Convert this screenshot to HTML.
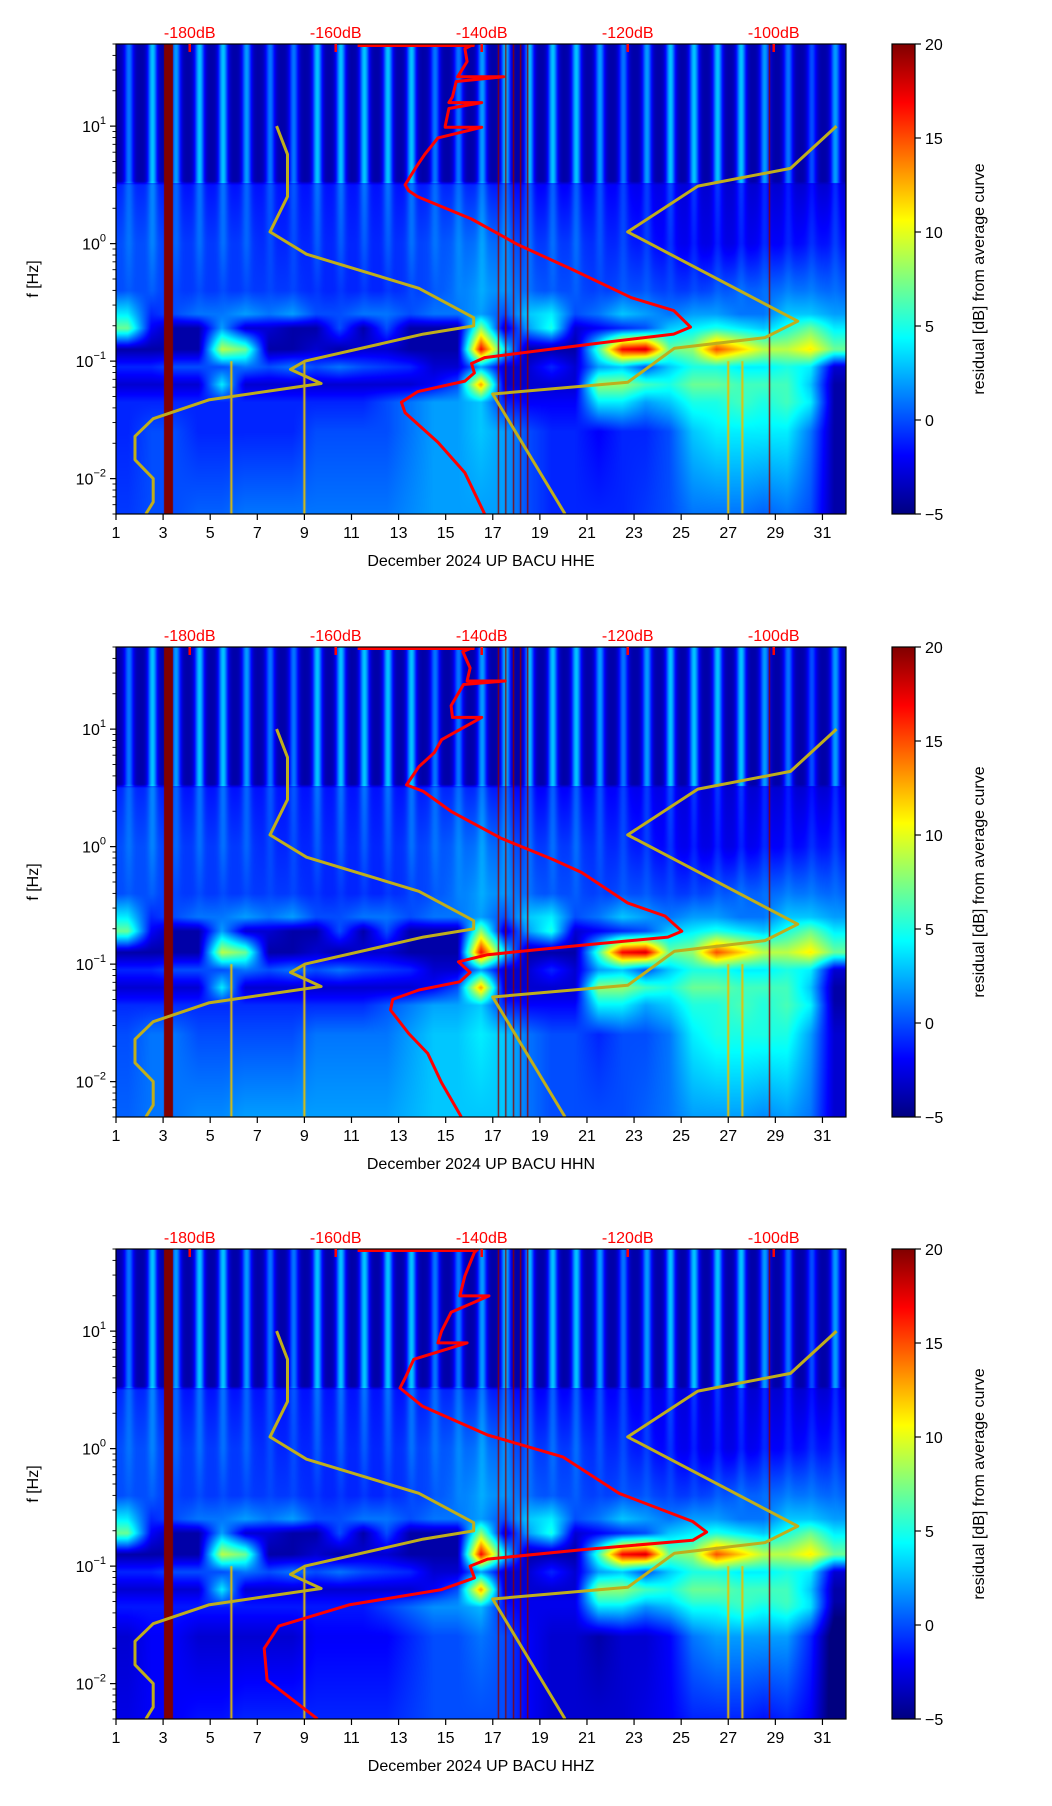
<!DOCTYPE html>
<html><head><meta charset="utf-8"><title>Spectrogram residuals BACU December 2024</title>
<style>
html,body{margin:0;padding:0;background:#fff;}
#wrap{position:relative;width:1052px;height:1806px;overflow:hidden;font-family:"Liberation Sans","DejaVu Sans",sans-serif;}
canvas{position:absolute;}
svg{position:absolute;left:0;top:0;}
</style></head>
<body>
<div id="wrap">
<canvas id="c0" width="730" height="470" style="left:116px;top:44px"></canvas>
<canvas id="c1" width="730" height="470" style="left:116px;top:647px"></canvas>
<canvas id="c2" width="730" height="470" style="left:116px;top:1249px"></canvas>
<svg id="ov" width="1052" height="1806"></svg>
</div>
<script>
// ---------- data ----------
const channels = ["HHE","HHN","HHZ"];
const xTickDays = [1,3,5,7,9,11,13,15,17,19,21,23,25,27,29,31];
const dbTicks = [-180,-160,-140,-120,-100];
const yTickExp = [1,0,-1,-2];
const cbTicks = [-5,0,5,10,15,20];
const rowLogF = [1.70, 0.53, 0.50, 0.0, -0.40, -0.60, -0.72, -0.90, -1.05, -1.20, -1.35, -1.60, -2.30];
const rowHigh   = [-4,-4,-4,-4,-4,-4,-4,-4,-4,-4,-4,-4,-4,-4,-4,-4,-4,-4,-4,-4,-4,-4,-4,-4,-4,-4,-4,-4,-4,-4,-4];
const rowHighLo = [-4,-4,-4,-4,-4,-4,-4,-4,-4,-4,-4,-4,-4,-4,-4,-4,-4,-4,-4,-4,-4,-4,-4,-4,-4,-4,-4,-4,-4,-4,-4];
const rowMid1 = [-1,-1,-1.5,-1.5,-1.5,-1.5,-1.5,-1.5,-1.5,-1.5,-1.5,-1.5,-1.5,-1,-1,-1,-1.5,-2,-2,-2,-2,-2,-2.5,-2.5,-3,-3,-3,-3,-3,-3,-3];
const rowMid2 = [0,0,-0.5,-0.5,-0.5,-0.5,-1,-1,-1,-1,-1,-1,-0.5,0,0.5,1,0.5,-0.5,-0.5,-0.5,-1,-1,-1.5,-2,-2.5,-2.5,-2.5,-2,-2,-1.5,-1.5];
const rowMid3 = [0,0,-0.5,-0.5,-0.5,-0.5,-0.5,-0.5,-1,-1,-1,-1,-0.5,0,1,2,1.5,0.5,0,0,-0.5,0,0,-0.5,-0.5,0,0.5,0.5,1,1,0.5];
const row025 = [4,-1,0,1,1,2,1,2,0,0,1,1,0,1,1,2,0,3,4,0,1,3,2,1,2,2,1,1,3,3,2];
const row019 = [7,-2,-4,-4,2,-3,-3,-4,-4,0,-4,0,-4,-4,-4,8,-3,2,5,-3,-2,-1,0,3,4,5,4,3,5,7,4];
const row0125 = [-4,-4,-4,-4,9,7,-4,-4,-3,-4,-3,-3,-4,-4,-4,17,4,-4,-4,-4,6,17,18,7,8,15,12,9,9,11,7];
const row009 = [-1,-1,0,0,0,1,0,1,0,1,0,-0.5,-1,-3,-3,2,-3,-3,-1,-3,2,3,0,3,5,5,4,4,5,4,-3];
const row0063 = [-3,-3,-3,-3,4,-3,-3,-3,-3,-3,-3,-3,-3,-2,0,13,-3,-3,-3,-3,8,8,6,5,7,7,6,6,6,3,-4];
const row0045 = [-1,-1,-1,-1,-1,-1,-1,-1,-1,-1,-1,0,1,2,2,3,-1,-2,-2,-2,4,4,2,3,5,5,6,5,6,4,-4];
const row0025 = [-1,0,0,-1,-1,-1,-1,-1,0,0,0,0,1,2,2,3,2,0,-1,-1,-2,-1,-1,0,3,4,4,4,4,1,-4];
const row0005 = [-0.5,0,0,0.5,0.5,1,1,1,1,1,1,1,1.5,2,2,2,2,0,-1,-1,-1,-1,-0.5,0,1,1,1,0.5,1,0,-4];
const rowValues = [rowHigh,rowHighLo,rowMid1,rowMid2,rowMid3,row025,row019,row0125,row009,row0063,row0045,row0025,row0005];
const dayBoost = [5,7,6,7,7,6,5,5,7,7,7,7,7,5,5,6,7,7,7,7,6,5,6,7,7,7,7,6,5,4,6];
const lowShift = [0, 1, -2];
const darkBarDays = [3.04, 3.42];
const thinLineDays = [17.24,17.55,17.88,18.18,18.48,28.75];
const lowLineDays = [5.9, 9.0, 27.0, 27.6];
const redLogF0 = [1.70,1.66,1.55,1.45,1.42,1.42,1.38,1.25,1.2,1.2,1.15,1.0,0.99,0.99,0.9,0.76,0.65,0.55,0.5,0.45,0.40,0.21,-0.01,-0.22,-0.46,-0.57,-0.71,-0.77,-0.84,-0.97,-1.02,-1.1,-1.17,-1.26,-1.35,-1.44,-1.69,-1.95,-2.3];
const redDb0   = [-141,-142.3,-142,-143,-143.3,-137,-143.5,-144,-144.5,-140,-144.5,-145,-145,-140,-146,-147.8,-149,-150,-150.5,-150,-148.8,-141.4,-135,-127.6,-119.5,-113.7,-111.4,-113.7,-123,-139.6,-141.4,-141,-142.3,-148.8,-151,-150.5,-146,-142.3,-139.6];
const redLogF1 = [1.7,1.66,1.52,1.41,1.41,1.38,1.2,1.1,1.1,0.91,0.8,0.68,0.525,0.47,0.3,0.07,-0.11,-0.22,-0.48,-0.59,-0.72,-0.77,-0.84,-0.92,-0.98,-1.07,-1.15,-1.22,-1.30,-1.39,-1.59,-1.76,-2.01,-2.3];
const redDb1   = [-141,-142.6,-141.6,-142,-136.8,-142.5,-144.2,-144,-140,-145.5,-146.5,-148.6,-150.3,-148,-144.2,-137.3,-130.2,-126.3,-120,-114.9,-112.6,-114.5,-126.3,-139.2,-143.2,-141.6,-143,-148.6,-152.2,-152.5,-150,-147.4,-145.5,-142.8];
const redLogF2 = [1.7,1.67,1.47,1.3,1.3,1.16,1.0,0.9,0.9,0.76,0.6,0.516,0.36,0.116,-0.07,-0.38,-0.62,-0.71,-0.78,-0.86,-0.94,-1.0,-1.1,-1.2,-1.33,-1.51,-1.70,-1.97,-2.3];
const redDb2   = [-140.5,-141,-142.3,-143,-139,-144.2,-145.5,-146,-142,-149.3,-150.5,-151.2,-148.1,-139.2,-128.9,-121.2,-111.1,-109.2,-111.1,-126.3,-139.2,-141.6,-141,-145.5,-158.2,-167.8,-169.8,-169.4,-162.5];
const redTopDb = [-157, -141];
const nlnmLogF = [1.0,0.76,0.40,0.10,-0.09,-0.38,-0.63,-0.70,-0.77,-1.0,-1.07,-1.19,-1.33,-1.49,-1.64,-1.84,-2.0,-2.2,-2.3];
const nlnmDb   = [-168.1,-166.6,-166.6,-169,-164,-148.6,-141.1,-141.1,-148,-164.2,-166.2,-162,-177.4,-185,-187.5,-187.5,-185,-185,-186];
const nhnmLogF = [1.0,0.64,0.49,0.10,-0.66,-0.8,-0.89,-1.18,-1.28,-2.3];
const nhnmDb   = [-91.4,-97.7,-110.4,-120,-96.7,-101.2,-113.6,-120,-138.5,-128.6];

// ---------- axes ----------
const X0=116, W=730, H=470, tops=[44,647,1249];
const DAY_MIN=1, DAY_MAX=32, LF_MAX=Math.log10(50), LF_MIN=Math.log10(0.005), DB_MIN=-190.1, DB_MAX=-90.1;
const CB_X=892, CB_W=23;
function dayX(d){return X0+(d-DAY_MIN)/(DAY_MAX-DAY_MIN)*W;}
function dbX(db){return X0+(db-DB_MIN)/(DB_MAX-DB_MIN)*W;}
function fY(lf,top){return top+(LF_MAX-lf)/(LF_MAX-LF_MIN)*H;}
function cbY(v,top){return top+(20-v)/25*H;}
function jet(t){t=Math.max(0,Math.min(1,t));const c=x=>Math.max(0,Math.min(1,x));
  return [c(1.5-Math.abs(4*t-3)),c(1.5-Math.abs(4*t-2)),c(1.5-Math.abs(4*t-1))];}
function colVal(arr,day){
  let p=day-1.5; if(p<0)p=0; if(p>arr.length-1)p=arr.length-1;
  const i=Math.floor(p), f=p-i; const a=arr[i], b=arr[Math.min(i+1,arr.length-1)];
  return a+(b-a)*f;}
function value(day,lf,panel){
  let k=0; while(k<rowLogF.length-2 && lf<rowLogF[k+1]) k++;
  const l0=rowLogF[k], l1=rowLogF[k+1];
  let f=(l0-lf)/(l0-l1); f=Math.max(0,Math.min(1,f));
  let v=colVal(rowValues[k],day)*(1-f)+colVal(rowValues[k+1],day)*f;
  if(lf<=-1.3) v+=lowShift[panel]*Math.min(1,(-1.3-lf)/0.3);
  const di=Math.min(30,Math.max(0,Math.floor(day)-1)); const fr=day-Math.floor(day);
  const p=Math.exp(-Math.pow((fr-0.55)/0.2,2));
  let sf = lf>0.52?1:(lf>-0.6?0.35*(lf+0.6)/1.1:0);
  v+=dayBoost[di]*p*sf;
  if(day>=darkBarDays[0]&&day<=darkBarDays[1]) v=20;
  return v;}
function drawSpec(panel){
  const cv=document.getElementById('c'+panel), ctx=cv.getContext('2d');
  const img=ctx.createImageData(W,H), d=img.data;
  for(let y=0;y<H;y++){const lf=LF_MAX-(y+0.5)/H*(LF_MAX-LF_MIN);
    for(let x=0;x<W;x++){const day=DAY_MIN+(x+0.5)/W*(DAY_MAX-DAY_MIN);
      const c=jet((value(day,lf,panel)+5)/25); const o=(y*W+x)*4;
      d[o]=c[0]*255;d[o+1]=c[1]*255;d[o+2]=c[2]*255;d[o+3]=255;}}
  ctx.putImageData(img,0,0);
  ctx.fillStyle='#8b0000';
  thinLineDays.forEach(dd=>{ctx.fillRect(dayX(dd)-X0-0.6,0,1.3,H);});
  ctx.fillStyle='#e8c000';
  lowLineDays.forEach(dd=>{const y0=fY(-1.0,0);ctx.fillRect(dayX(dd)-X0-1,y0,2,H-y0);});
}
const NS='http://www.w3.org/2000/svg', ov=document.getElementById('ov');
function el(tag,attrs,parent){const e=document.createElementNS(NS,tag);for(const k in attrs)e.setAttribute(k,attrs[k]);(parent||ov).appendChild(e);return e;}
function pathFrom(lfs,dbs,top){return lfs.map((lf,i)=>(i?'L':'M')+dbX(dbs[i]).toFixed(1)+' '+fY(lf,top).toFixed(1)).join(' ');}
const reds=[[redLogF0,redDb0],[redLogF1,redDb1],[redLogF2,redDb2]];
for(let p=0;p<3;p++){
  drawSpec(p);
  const top=tops[p];
  const g=el('g',{});
  
  
  const cid='clip'+p;
  const cp=el('clipPath',{id:cid},g); el('rect',{x:X0,y:top,width:W,height:H},cp);
  const lines=el('g',{'clip-path':'url(#'+cid+')'},g);
  const nl=el('path',{d:pathFrom(nlnmLogF,nlnmDb,top),fill:'none',stroke:'#bfae1c','stroke-width':3,'stroke-linejoin':'round'},lines);
  
  
  const nh=el('path',{d:pathFrom(nhnmLogF,nhnmDb,top),fill:'none',stroke:'#bfae1c','stroke-width':3,'stroke-linejoin':'round'},lines);
  
  
  const rd=el('path',{d:pathFrom(reds[p][0],reds[p][1],top),fill:'none',stroke:'#ff0000','stroke-width':3,'stroke-linejoin':'round'},lines);
  
  
  const rt=el('line',{x1:dbX(redTopDb[0]),x2:dbX(redTopDb[1]),y1:top+1.5,y2:top+1.5,stroke:'#ff0000','stroke-width':3},lines);
  
  
  const fr=el('rect',{x:X0,y:top,width:W,height:H,fill:'none',stroke:'#000','stroke-width':1.2},g);
  
  
  xTickDays.forEach(d=>{const x=dayX(d);
    el('line',{x1:x,x2:x,y1:top+H,y2:top+H+6,stroke:'#000','stroke-width':1.2},g);
    const t=el('text',{x:x,y:top+H+24,'font-size':16,'text-anchor':'middle',fill:'#000'},g);t.textContent=d;
    
    });
  const xl=el('text',{x:X0+W/2,y:top+H+52,'font-size':16,'text-anchor':'middle',fill:'#000'},g);
  xl.textContent='December 2024 UP BACU  '+channels[p];
  
  
  dbTicks.forEach(db=>{const x=dbX(db);
    el('line',{x1:x,x2:x,y1:top,y2:top+8,stroke:'#ff0000','stroke-width':2.5},g);
    const t=el('text',{x:x,y:top-6,'font-size':16,'text-anchor':'middle',fill:'#ff0000'},g);t.textContent=db+'dB';
    
    });
  for(let e=-3;e<=1;e++){for(let m=1;m<=9;m++){const lf=e+Math.log10(m);if(lf>LF_MAX||lf<LF_MIN)continue;const y=fY(lf,top);
    el('line',{x1:X0-(m===1?6:3.5),x2:X0,y1:y,y2:y,stroke:'#000','stroke-width':m===1?1.2:0.9},g);}}
  yTickExp.forEach(e=>{const y=fY(e,top);
    const t=el('text',{x:X0-10,y:y+6,'font-size':16,'text-anchor':'end',fill:'#000'},g);
    const a=el('tspan',{},t);a.textContent='10';
    const b=el('tspan',{dy:-8,'font-size':11},t);b.textContent=e<0?'\u2212'+(-e):String(e);
    
    });
  const yl=el('text',{x:0,y:0,'font-size':16,'text-anchor':'middle',fill:'#000',transform:'translate(38,'+(top+H/2)+') rotate(-90)'},g);
  yl.textContent='f [Hz]';
  
  
  const gid='cbg'+p; const lg=el('linearGradient',{id:gid,x1:0,y1:1,x2:0,y2:0},g);
  [[0,'#000080'],[0.125,'#0000ff'],[0.375,'#00ffff'],[0.625,'#ffff00'],[0.875,'#ff0000'],[1,'#800000']].forEach(s=>el('stop',{offset:s[0],'stop-color':s[1]},lg));
  const cb=el('rect',{x:CB_X,y:top,width:CB_W,height:H,fill:'url(#'+gid+')',stroke:'#000','stroke-width':1.2},g);
  
  
  cbTicks.forEach(v=>{const y=cbY(v,top);
    el('line',{x1:CB_X+CB_W,x2:CB_X+CB_W+6,y1:y,y2:y,stroke:'#000','stroke-width':1.2},g);
    const t=el('text',{x:CB_X+CB_W+10,y:y+6,'font-size':16,fill:'#000'},g);t.textContent=v<0?'\u2212'+(-v):String(v);
    
    });
  const cl=el('text',{x:0,y:0,'font-size':16,'text-anchor':'middle',fill:'#000',transform:'translate(984,'+(top+H/2)+') rotate(-90)'},g);
  cl.textContent='residual [dB] from average curve';
  
  
}
</script>
</body></html>
